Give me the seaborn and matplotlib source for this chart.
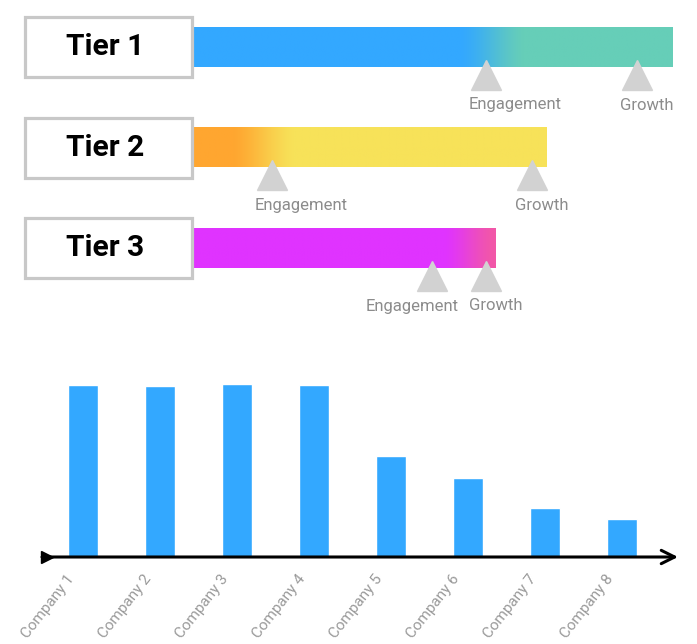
import numpy as np
import matplotlib
matplotlib.use("Agg")
import matplotlib.pyplot as plt
import matplotlib.transforms as mtransforms
from matplotlib.colors import to_rgb
from matplotlib.patches import Rectangle
import seaborn as sns

# ============================================================
#  Data
# ============================================================

tiers = ["Tier 1", "Tier 2", "Tier 3"]
tier_length = [100.0, 73.6, 63.0]          # bar length (tier 1 = 100)
engagement = [61.1, 16.6, 49.9]            # milestone positions
growth = [92.5, 70.7, 61.1]
milestone_names = ["Engagement", "Growth"]

# gradient: (start colour, end colour, blend start, blend end)
tier_colors = [("#33A8FF", "#66CEB8", 56.0, 69.0),
               ("#FFA630", "#F7E259", 8.5, 21.0),
               ("#E033FF", "#F257A8", 52.5, 62.5)]

companies = ["Company 1", "Company 2", "Company 3", "Company 4",
             "Company 5", "Company 6", "Company 7", "Company 8"]
scores = [172, 171, 173, 172, 101, 79, 49, 38]

# ============================================================
#  Figure
# ============================================================

sns.set_theme(style="white")
plt.rcParams["font.family"] = ["Roboto", "DejaVu Sans"]

W, H = 697, 644
fig = plt.figure(figsize=(W / 100, H / 100), dpi=100)

# --- top: tier bars -----------------------------------------
px_x = 4.81      # pixels per x unit
px_y = 100.5     # pixels per row
top_h = 330
ax = fig.add_axes([0, 1 - top_h / H, 1, top_h / H])
x0 = -192 / px_x
x1 = (W - 192) / px_x
y_top = -47 / px_y
y_bot = (top_h - 47) / px_y

bar_half = 20 / px_y
box_half = 30 / px_y

for i, tier in enumerate(tiers):
    c0, c1, b0, b1 = tier_colors[i]
    xs = np.linspace(0, tier_length[i], 400)
    t = np.clip((xs - b0) / (b1 - b0), 0, 1)
    t = 0.5 * t + 0.5 * t * t * (3 - 2 * t)
    rgb = (1 - t)[:, None] * np.array(to_rgb(c0)) + t[:, None] * np.array(to_rgb(c1))
    ax.imshow(rgb[None, :, :], extent=(0, tier_length[i], i + bar_half, i - bar_half),
              aspect="auto", interpolation="bilinear", zorder=1)

    box = Rectangle((-167 / px_x, i - box_half), 167 / px_x, 2 * box_half,
                    facecolor="white", edgecolor="#C8C8C8", lw=2.3, zorder=3)
    ax.add_patch(box)
    ax.text(-87 / px_x, i, tier, ha="center", va="center", fontsize=21.5,
            fontweight="bold", color="black", zorder=4)

    marks = [engagement[i], growth[i]]
    ax.plot(marks, [i + 27.5 / px_y] * 2, ls="", marker="^", ms=21.5,
            color="#D2D2D2", zorder=2)

    for j, (m, name) in enumerate(zip(marks, milestone_names)):
        if i == 2 and j == 0:
            # pushed left so it does not run into the Growth label
            lx, ha = growth[i] - 27 / px_x, "right"
        else:
            lx, ha = m - 17 / px_x, "left"
        ax.text(lx, i + 58 / px_y, name, ha=ha, va="center", fontsize=12,
                color="#8C8C8C")

ax.set_xlim(x0, x1)
ax.set_ylim(y_bot, y_top)
ax.axis("off")

# --- bottom: company bars -----------------------------------
bx0, bx1 = 42, 678
base_y, top_y = 557, 370
ax2 = fig.add_axes([bx0 / W, 1 - base_y / H, (bx1 - bx0) / W, (base_y - top_y) / H])
sns.barplot(x=companies, y=scores, color="#33A8FF", width=30 / 77,
            saturation=1, ax=ax2)
ax2.set_xlim(-(83 - bx0) / 77, 7 + (bx1 - 622) / 77)
ax2.set_ylim(0, base_y - top_y)
sns.despine(ax=ax2, left=True, bottom=True, top=True, right=True)
ax2.set_yticks([])
ax2.tick_params(axis="x", length=0, pad=6)

# axis line with arrow head
ax2.annotate("", xy=(1, 0), xytext=(0, 0), xycoords="axes fraction",
             arrowprops=dict(arrowstyle="->", lw=2.2, color="black",
                             mutation_scale=24, shrinkA=0, shrinkB=0))
ax2.plot([0.008], [0], marker=">", ms=9, color="black", transform=ax2.transAxes,
         clip_on=False)

offset = mtransforms.ScaledTranslation(-11 / 100, -11 / 100, fig.dpi_scale_trans)
for lab in ax2.get_xticklabels():
    lab.set_rotation(52)
    lab.set_rotation_mode("anchor")
    lab.set_ha("right")
    lab.set_va("center")
    lab.set_fontsize(11)
    lab.set_color("#9A9A9A")
    lab.set_transform(lab.get_transform() + offset)

fig.savefig("out.png", dpi=100)
